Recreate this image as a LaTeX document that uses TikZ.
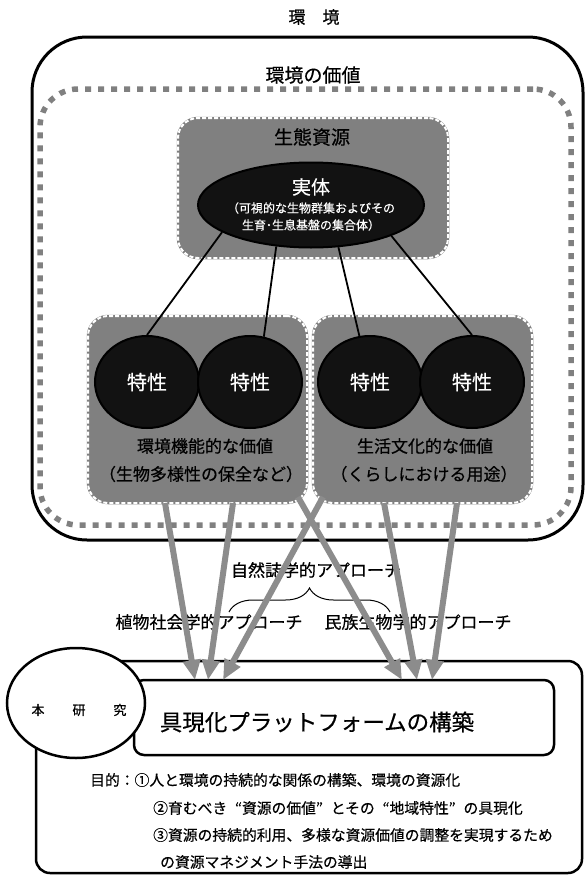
\documentclass[tikz,border=0pt]{standalone}
\usepackage{fontspec}
\setmainfont[FakeBold=0.5]{Noto Sans CJK JP}
\usetikzlibrary{shapes.geometric,arrows.meta,decorations.pathreplacing}
\definecolor{boxgray}{HTML}{808080}
\definecolor{arrgray}{HTML}{8C8C8C}
\definecolor{nearblack}{HTML}{121212}
\newcommand{\oq}{\makebox[1em][r]{“}}
\newcommand{\cq}{\makebox[1em][l]{”}}
\begin{document}
\begin{tikzpicture}[x=1pt,y=-1pt,
  fs/.style={font=\fontsize{#1}{#1}\selectfont},
  txt/.style={inner sep=0pt, text=black},
  wtxt/.style={inner sep=0pt, text=white},
  outerbox/.style={rectangle, draw=black, line width=3pt, inner sep=0pt, rounded corners=55pt},
  dotbox/.style={rectangle, draw=boxgray, line width=5.5pt, dash pattern=on 6pt off 7pt, inner sep=0pt, rounded corners=38pt},
  graybox/.style={rectangle, fill=boxgray, draw=boxgray, line width=2.5pt, rounded corners=20pt, inner sep=0pt,
     postaction={draw=white, line width=2pt, dash pattern=on 4pt off 2pt}},
  blob/.style={ellipse, fill=nearblack, draw=black, line width=2pt, inner sep=0pt},
  link/.style={draw=black, line width=1.8pt},
  bigarrow/.style={draw=arrgray, line width=6pt, -{Triangle[length=20pt,width=17pt]}},
  plainbox/.style={rectangle, draw=black, line width=2.5pt, inner sep=0pt},
]
\useasboundingbox (0,0) rectangle (585,878);

% environment
\node[txt, fs=17] (envt) at (314,17) {環　境};
\node[outerbox, minimum width=551pt, minimum height=503pt] (env) at (307.5,288.5) {};
\node[txt, fs=19] (valt) at (313,75) {環境の価値};
\node[dotbox, minimum width=531pt, minimum height=436pt] (val) at (305.5,307) {};

% gray boxes
\node[graybox, minimum width=270pt, minimum height=140pt] (eco) at (313,188) {};
\node[graybox, minimum width=219pt, minimum height=187pt] (lbox) at (197.5,409.5) {};
\node[graybox, minimum width=219pt, minimum height=187pt] (rbox) at (422.5,409.5) {};
\node[txt, fs=19] (ecot) at (312,137) {生態資源};

% entity ellipse
\node[blob, minimum width=226pt, minimum height=85pt] (jittai) at (311,205) {};
\node[wtxt, fs=19] (jt1) at (311,187) {実体};
\node[wtxt, fs=12] (jt2) at (311,208) {（可視的な生物群集およびその};
\node[wtxt, fs=12] (jt3) at (311,225) {生育･生息基盤の集合体）};

% property circles
\node[blob, minimum width=104pt, minimum height=92pt, fs=20, text=white] (c1) at (147,382) {特性};
\node[blob, minimum width=104pt, minimum height=92pt, fs=20, text=white] (c2) at (250,382) {特性};
\node[blob, minimum width=104pt, minimum height=92pt, fs=20, text=white] (c3) at (370,382) {特性};
\node[blob, minimum width=104pt, minimum height=92pt, fs=20, text=white] (c4) at (472,382) {特性};

\draw[link] (jittai.197.6) -- (c1.north);
\draw[link] (jittai.230.2) -- (c2.73);
\draw[link] (jittai.303.7) -- (c3.103);
\draw[link] (jittai.339.7) -- (c4.north);

\node[txt, fs=17] (lt1) at (205,446) {環境機能的な価値};
\node[txt, fs=17] (lt2) at (201,474) {（生物多様性の保全など）};
\node[txt, fs=17] (rt1) at (425,446) {生活文化的な価値};
\node[txt, fs=17] (rt2) at (424,474) {（くらしにおける用途）};

% approaches
\node[txt, fs=17] (nat) at (316,570) {自然誌学的アプローチ};
\coordinate (bl) at (229,612);
\coordinate (br) at (390,612);
\draw[line width=1pt, decorate, decoration={brace, amplitude=24pt}] (bl) -- (br);
\node[txt, fs=17] (plant) at (209,622) {植物社会学的アプローチ};
\node[txt, fs=17] (ethno) at (418,622) {民族生物学的アプローチ};

% research box
\node[plainbox, rounded corners=14pt, minimum width=546pt, minimum height=212pt] (res) at (309,767) {};
\node[plainbox, rounded corners=10pt, fill=white, minimum width=420pt, minimum height=75pt] (plat) at (344,717.5) {};
\node[txt, fs=22.5] (platt) at (317,722) {具現化プラットフォームの構築};
\node[ellipse, draw=black, fill=white, line width=2.5pt, inner sep=0pt, minimum width=138pt, minimum height=110pt] (hon) at (76,703) {};
\node[txt, fs=13] (hont) at (79,710) {本\hspace{28pt}研\hspace{28pt}究};

\node[txt, fs=14.8, anchor=west] (p1) at (90,780) {目的：①人と環境の持続的な関係の構築、環境の資源化};
\node[txt, fs=14.8, anchor=west] (p2) at (153,808) {②育むべき\oq 資源の価値\cq とその\oq 地域特性\cq の具現化};
\node[txt, fs=14.8, anchor=west] (p3) at (153,835) {③資源の持続的利用、多様な資源価値の調整を実現するため};
\node[txt, fs=14.8, anchor=west] (p4) at (160,862) {の資源マネジメント手法の導出};

% arrows
\coordinate (s1) at (165,503);
\coordinate (s2) at (233,503);
\coordinate (s3) at (298,497);
\coordinate (s4) at (323,497);
\coordinate (s5) at (384,503);
\coordinate (s6) at (457,503);
\coordinate (e1) at (195,680);
\coordinate (e2) at (208,680);
\coordinate (e3) at (402,680);
\coordinate (e4) at (223,680);
\coordinate (e5) at (417,680);
\coordinate (e6) at (432,680);
\draw[bigarrow] (s1) -- (e1);
\draw[bigarrow] (s2) -- (e2);
\draw[bigarrow] (s3) -- (e3);
\draw[bigarrow] (s4) -- (e4);
\draw[bigarrow] (s5) -- (e5);
\draw[bigarrow] (s6) -- (e6);
\end{tikzpicture}
\end{document}
